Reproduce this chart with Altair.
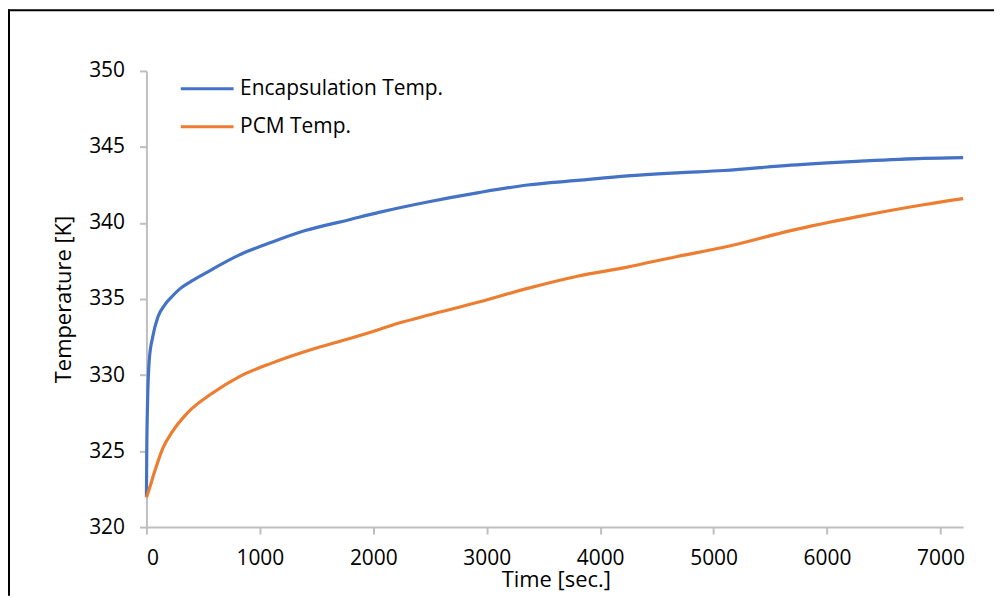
import altair as alt
import pandas as pd

# Encapsulation temperature (blue)
enc_time = [0, 3, 10, 25, 55, 100, 160, 230, 300, 380, 520, 820, 1110, 1400, 1780,
            2050, 2490, 2930, 3360, 3800, 4240, 4680, 5090, 5680, 6260, 6850, 7200]
enc_temp = [322.0, 325.1, 328.2, 331.0, 332.5, 333.8, 334.6, 335.2, 335.7, 336.1, 336.7,
            337.9, 338.75, 339.5, 340.2, 340.7, 341.4, 342.0, 342.5, 342.8, 343.1,
            343.3, 343.45, 343.8, 344.05, 344.25, 344.3]

# PCM temperature (orange)
pcm_time = [0, 25, 70, 145, 230, 360, 580, 820, 1110, 1400, 1700, 1990, 2220,
            2490, 2930, 3360, 3800, 4240, 4680, 5090, 5680, 6260, 6850, 7200]
pcm_temp = [321.95, 322.5, 323.6, 325.2, 326.3, 327.5, 328.8, 329.9, 330.8, 331.55,
            332.2, 332.85, 333.4, 333.95, 334.8, 335.7, 336.5, 337.1, 337.8, 338.4,
            339.5, 340.4, 341.2, 341.6]

series = ["Encapsulation Temp.", "PCM Temp."]
colors = ["#4472C4", "#ED7D31"]
x_ticks = [0, 1000, 2000, 3000, 4000, 5000, 6000, 7000]
y_ticks = [320, 325, 330, 335, 340, 345, 350]

df = pd.concat([
    pd.DataFrame({"t": enc_time, "T": enc_temp, "s": series[0], "o": range(len(enc_time))}),
    pd.DataFrame({"t": pcm_time, "T": pcm_temp, "s": series[1], "o": range(len(pcm_time))}),
])

FONT = "Open Sans"

lines = alt.Chart(df).mark_line(strokeWidth=3.2, interpolate="monotone").encode(
    x=alt.X("t:Q",
            scale=alt.Scale(domain=[0, 7200], nice=False, zero=False),
            axis=alt.Axis(values=x_ticks, format="d", title="Time [sec.]", grid=False,
                          tickSize=7, labelPadding=14,
                          titleX=411, titleY=60, titleBaseline="alphabetic",
                          titleAlign="center")),
    y=alt.Y("T:Q",
            scale=alt.Scale(domain=[320, 350], nice=False, zero=False),
            axis=alt.Axis(values=y_ticks, format="d", title="Temperature [K]", grid=False,
                          tickSize=7, labelPadding=15,
                          titleX=-83, titleY=229, titleAngle=-90,
                          titleAlign="center", titleBaseline="middle")),
    color=alt.Color("s:N",
                    scale=alt.Scale(domain=series, range=colors),
                    legend=alt.Legend(title=None, orient="none", legendX=33, legendY=-10,
                                      symbolType="stroke", symbolSize=2809,
                                      symbolStrokeWidth=3, labelOffset=5,
                                      rowPadding=-10, padding=0, labelLimit=0,
                                      labelFontSize=21, labelFont=FONT,
                                      labelColor="#000000")),
    order="o:Q",
)

frame_data = pd.DataFrame({"a": [0]})
top_line = alt.Chart(frame_data).mark_rule(color="#000000", strokeWidth=2).encode(
    x=alt.value(-139), x2=alt.value(851), y=alt.value(-61))
left_line = alt.Chart(frame_data).mark_rule(color="#000000", strokeWidth=2).encode(
    x=alt.value(-138), y=alt.value(-62), y2=alt.value(527))

chart = alt.layer(lines, top_line, left_line).properties(
    width=820, height=458,
    background="#ffffff",
    autosize=alt.AutoSizeParams(type="none"),
    padding={"left": 139, "top": 62, "right": 32, "bottom": 69},
).configure_view(stroke=None).configure_axis(
    domainColor="#BFBFBF", domainWidth=2, tickColor="#BFBFBF", tickWidth=2,
    labelFont=FONT, labelFontSize=21, labelColor="#000000",
    titleFont=FONT, titleFontSize=22, titleColor="#000000", titleFontWeight="normal",
)

chart.save("out.html", embed_options={"renderer": "svg", "actions": False})
